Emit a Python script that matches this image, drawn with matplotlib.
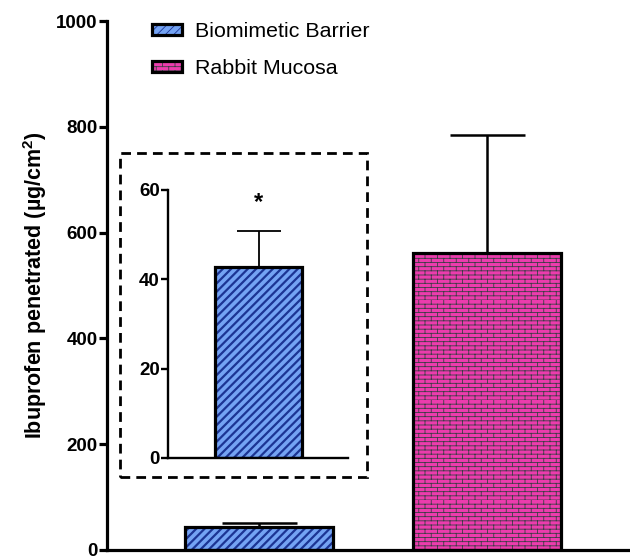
import numpy as np
import warnings
from matplotlib import pyplot as plt
from matplotlib import hatch as mhatch
from matplotlib.patches import Rectangle
from matplotlib.legend_handler import HandlerTuple
from matplotlib.path import Path

warnings.filterwarnings("ignore")

groups = ["Biomimetic Barrier", "Rabbit Mucosa"]
means = [42.7, 561]
errs = [8.2, 223]
inset_mean = 42.7
inset_err = 8.2

fill_cols = ["#74a3f3", "#ec3cad"]
hatch_cols = ["#1c3594", "#3d3d45"]
hatches = ["////", "bbbb"]
hatch_lw = [1.6, 0.6]


# brick hatch ('b'), not in matplotlib so add one
class BrickHatch(mhatch.HatchPatternBase):
    def __init__(self, hatch, density):
        self.rows = hatch.count('b') * density
        self.cols = self.rows // 3
        self.num_lines = 0
        self.num_vertices = 0
        if self.rows:
            self.num_vertices = self.rows * 2 + self.rows * self.cols * 2

    def set_vertices_and_codes(self, vertices, codes):
        k = 0
        for i in range(self.rows):
            y0 = i / self.rows
            y1 = (i + 1) / self.rows
            vertices[k] = (0, y0); vertices[k + 1] = (1, y0)
            codes[k] = Path.MOVETO; codes[k + 1] = Path.LINETO
            k += 2
            for j in range(self.cols):
                x = (j + 0.5 * (i % 2)) / self.cols
                vertices[k] = (x, y0); vertices[k + 1] = (x, y1)
                codes[k] = Path.MOVETO; codes[k + 1] = Path.LINETO
                k += 2


mhatch._hatch_types.append(BrickHatch)

plt.rcParams['font.family'] = ['Liberation Sans', 'DejaVu Sans']
plt.rcParams['mathtext.fontset'] = 'custom'
plt.rcParams['mathtext.rm'] = 'Liberation Sans'
plt.rcParams['mathtext.bf'] = 'Liberation Sans:bold'

fig = plt.figure(figsize=(6.3, 5.56), dpi=100)
ax = fig.add_axes([0.170, 1 - 550 / 556, 0.830, 529 / 556])

x = np.arange(len(groups))
handles = []
for i in range(len(groups)):
    plt.rcParams['hatch.linewidth'] = hatch_lw[i]
    f = ax.bar(x[i], means[i], 0.65, color=fill_cols[i], hatch=hatches[i],
               edgecolor=hatch_cols[i], linewidth=0, zorder=2)
    e = ax.bar(x[i], means[i], 0.65, fill=False, edgecolor='black',
               linewidth=2.3, zorder=3)
    ax.errorbar(x[i], means[i], yerr=[[0], [errs[i]]], fmt='none', ecolor='black',
                elinewidth=1.8, capsize=27, capthick=1.8, zorder=1)
    handles.append((f[0], e[0]))

ax.set_xlim(-0.667, 1.627)
ax.set_ylim(0, 1000)
ax.set_yticks([0, 200, 400, 600, 800, 1000])
ax.set_xticks([])
for s in ['top', 'right']:
    ax.spines[s].set_visible(False)
for s in ['left', 'bottom']:
    ax.spines[s].set_linewidth(2.3)
ax.tick_params(axis='y', length=6, width=2.3, labelsize=13.5, pad=1)
for t in ax.get_yticklabels():
    t.set_fontweight('bold')
ax.set_ylabel('Ibuprofen penetrated (µg/cm$^\\mathbf{2}$)', fontsize=15.5,
              fontweight='bold', labelpad=5)

leg = fig.legend(handles=handles, labels=groups, handler_map={tuple: HandlerTuple(ndivide=1)},
                 loc='upper left', bbox_to_anchor=(152 / 630, 1 - 22 / 556),
                 frameon=False, fontsize=15.4, borderpad=0, borderaxespad=0,
                 handlelength=1.4, handleheight=0.4, handletextpad=0.6, labelspacing=0.85)

# inset
box = Rectangle((120 / 630, 1 - 477 / 556), 247 / 630, 324 / 556, transform=fig.transFigure,
                fill=False, edgecolor='black', linewidth=2, linestyle=(0, (3.5, 2.2)))
fig.patches.append(box)

plt.rcParams['hatch.linewidth'] = hatch_lw[0]
ins = fig.add_axes([168 / 630, 1 - 458 / 556, 180 / 630, 268 / 556])
ins.bar(0, inset_mean, 0.5, color=fill_cols[0], hatch=hatches[0], edgecolor=hatch_cols[0],
        linewidth=0, zorder=2)
ins.bar(0, inset_mean, 0.5, fill=False, edgecolor='black', linewidth=2.3, zorder=3)
ins.errorbar(0, inset_mean, yerr=[[0], [inset_err]], fmt='none', ecolor='black',
             elinewidth=1.3, capsize=15.5, capthick=1.3, zorder=1)
ins.text(0, inset_mean + inset_err + 6.3, '*', ha='center', va='center', fontsize=17,
         fontweight='bold')
ins.set_xlim(-0.52, 0.514)
ins.set_ylim(0, 60)
ins.set_yticks([0, 20, 40, 60])
ins.set_xticks([])
ins.patch.set_alpha(0)
for s in ['top', 'right']:
    ins.spines[s].set_visible(False)
for s in ['left', 'bottom']:
    ins.spines[s].set_linewidth(1.7)
ins.tick_params(axis='y', length=5, width=1.7, labelsize=13.5, pad=1)
for t in ins.get_yticklabels():
    t.set_fontweight('bold')

fig.savefig('out.png', dpi=100)
